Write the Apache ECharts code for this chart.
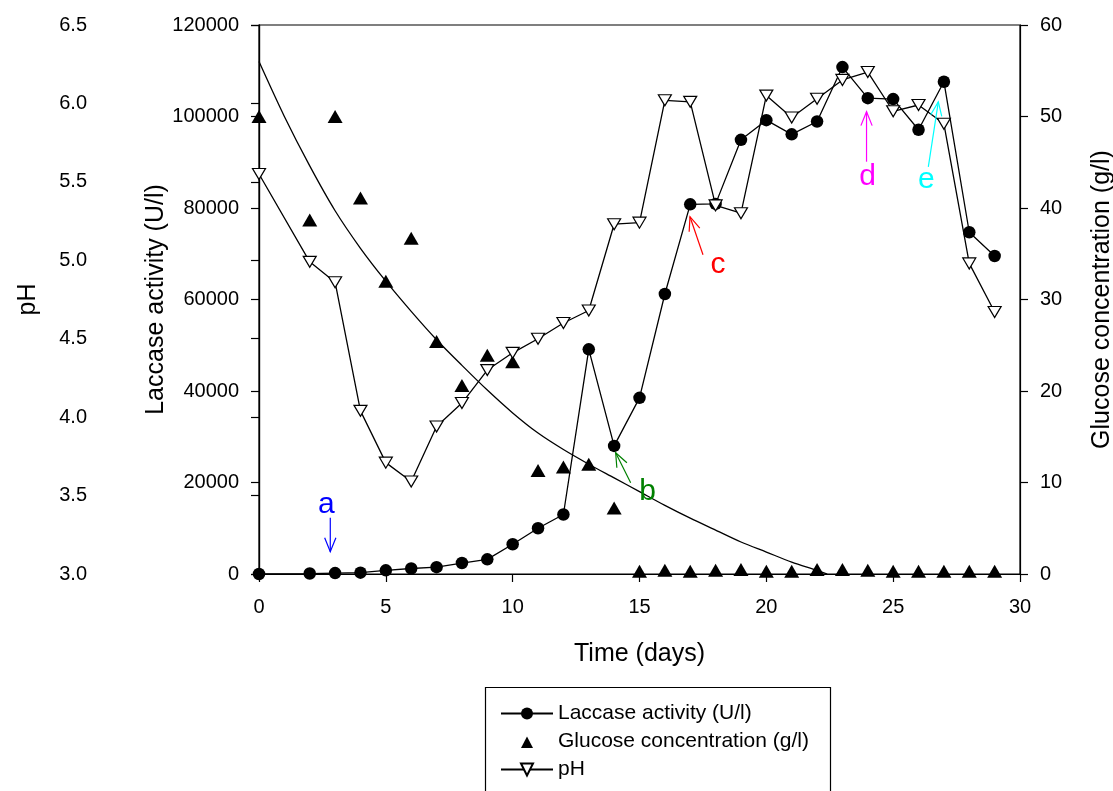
<!DOCTYPE html>
<html>
<head>
<meta charset="utf-8">
<script src="https://cdn.jsdelivr.net/npm/echarts@6/dist/echarts.min.js"></script>
<style>
html,body{margin:0;padding:0;background:#fff;overflow:hidden;}
#main{width:1113px;height:791px;}
</style>
</head>
<body>
<div id="main"></div>
<script>
// ---- data ----
var days = [0,2,3,4,5,6,7,8,9,10,11,12,13,14,15,16,17,18,19,20,21,22,23,24,25,26,27,28,29];
var laccase = [0,100,200,300,800,1200,1500,2400,3200,6500,10000,13000,49100,28000,38500,61200,80800,80900,94900,99200,96100,98900,110800,104000,103800,97100,107600,74700,69500];
var glucose = [50.0,38.7,50.0,41.1,32.0,36.7,25.4,20.6,23.9,23.2,11.3,11.7,12.0,7.2,0.3,0.4,0.3,0.4,0.5,0.3,0.3,0.5,0.5,0.4,0.3,0.3,0.3,0.3,0.3];
var pH = [5.55,4.99,4.86,4.04,3.71,3.59,3.94,4.09,4.30,4.41,4.50,4.60,4.68,5.23,5.24,6.02,6.01,5.35,5.30,6.05,5.91,6.03,6.15,6.20,5.95,5.99,5.87,4.98,4.67];
// fitted glucose decay curve at each day
var fitDays = [0,1,2,3,4,5,6,7,8,9,10,11,12,13,14,15,16,17,18,19,20,21,22,22.4];
var fitGlucose = [56.0,50.0,44.6,39.7,35.6,32.0,28.7,25.6,22.8,20.1,17.6,15.4,13.6,12.0,10.5,9.0,7.5,6.1,4.8,3.5,2.4,1.3,0.4,0];
// annotation letters: anchor = arrow tip (day, laccase)
var annoLetters = ['a','b','c','d','e'];
var annoDays = [2.81,14.06,16.99,23.95,26.78];
var annoLaccase = [4870,26500,78100,101050,103200];
var annoColors = ['#0000ff','#008000','#ff0000','#ff00ff','#00ffff'];
var xTicks = [0,5,10,15,20,25,30];

var FONT = "'Liberation Sans', Arial, Helvetica, sans-serif";
function zip(a,b){var r=[];for(var i=0;i<a.length;i++)r.push([a[i],b[i]]);return r;}

var chart = echarts.init(document.getElementById('main'), null, {renderer:'canvas'});
var axisCommon = {
  axisLine:{show:true,lineStyle:{color:'#000',width:1.2}},
  axisTick:{show:true,inside:false,length:8,lineStyle:{color:'#000',width:1.2}},
  axisLabel:{color:'#000',fontSize:20,fontFamily:FONT,formatter:function(v){return String(v);}},
  splitLine:{show:false},
  nameMoveOverlap:false,
  nameTextStyle:{color:'#000',fontSize:25,fontFamily:FONT}
};
function ax(o){return echarts.util.merge(echarts.util.clone(axisCommon),o,true);}

var option = {
  backgroundColor:'#fff',
  animation:false,
  grid:{left:259,right:93,top:25,bottom:217,containLabel:false,outerBoundsMode:'none',
        show:true,borderColor:'#000',borderWidth:1.2,backgroundColor:'transparent'},
  xAxis: ax({type:'value',min:xTicks[0],max:xTicks[xTicks.length-1],interval:5,
    name:'Time (days)',nameLocation:'middle',nameGap:68,
    axisLabel:{margin:23}}),
  yAxis:[
    ax({type:'value',position:'left',offset:154,min:3,max:6.5,interval:0.5,
      name:'pH',nameLocation:'middle',nameRotate:90,nameGap:64,
      axisLabel:{margin:18,formatter:function(v){return v.toFixed(1);}}}),
    ax({type:'value',position:'left',offset:0,min:0,max:120000,interval:20000,
      name:'Laccase activity (U/l)',nameLocation:'middle',nameRotate:90,nameGap:90,
      axisLabel:{margin:20}}),
    ax({type:'value',position:'right',offset:0,min:0,max:60,interval:10,
      name:'Glucose concentration (g/l)',nameLocation:'middle',nameRotate:90,nameGap:70,
      axisLabel:{margin:20}})
  ],
  legend:{
    orient:'vertical',left:495,top:698,itemWidth:52,itemHeight:15,itemGap:7,
    symbolKeepAspect:true,
    textStyle:{color:'#000',fontSize:21,lineHeight:21,fontFamily:FONT},
    data:[
      'Laccase activity (U/l)',
      {name:'Glucose concentration (g/l)',icon:'path://M0,0 M20,15 M4,14 L10,2.5 L16,14 Z'},
      'pH'
    ]
  },
  series:[
    {name:'fit',type:'line',yAxisIndex:2,data:zip(fitDays,fitGlucose),smooth:0.3,
     showSymbol:false,symbol:'none',lineStyle:{color:'#000',width:1.3},silent:true,z:1},
    {name:'Glucose concentration (g/l)',type:'scatter',yAxisIndex:2,data:zip(days,glucose),
     symbol:'triangle',symbolSize:[15,13],itemStyle:{color:'#000',opacity:1},z:2},
    {name:'Laccase activity (U/l)',type:'line',yAxisIndex:1,data:zip(days,laccase),
     symbol:'circle',symbolSize:12.5,showAllSymbol:true,
     lineStyle:{color:'#000',width:1.3},itemStyle:{color:'#000',borderColor:'#000',borderWidth:0},z:3},
    {name:'pH',type:'line',yAxisIndex:0,data:zip(days,pH),
     symbol:'triangle',symbolRotate:180,symbolSize:[13,11],showAllSymbol:true,
     lineStyle:{color:'#000',width:1.3},itemStyle:{color:'#fff',borderColor:'#000',borderWidth:1.2},z:4}
  ]
};
chart.setOption(option);

// annotations: arrows + letters, positioned from data coordinates
var tails = [[0,-34],[15,30],[13,38],[0,50],[-10,65]];
var textOff = [[-4,-47],[32,39],[28,48],[1,65],[-12,78]];
var graphics = [];
graphics.push({type:'rect',left:483,top:685,shape:{width:345,height:150},
  style:{fill:'none',stroke:'#000',lineWidth:1.2},z:10,silent:true});
function rot(x,y,a){return [x*Math.cos(a)-y*Math.sin(a), x*Math.sin(a)+y*Math.cos(a)];}
for (var i=0;i<annoLetters.length;i++){
  var p = chart.convertToPixel({xAxisIndex:0,yAxisIndex:1},[annoDays[i],annoLaccase[i]]);
  var tx=p[0], ty=p[1];
  var sx=tx+tails[i][0], sy=ty+tails[i][1];
  var dx=tx-sx, dy=ty-sy, L=Math.sqrt(dx*dx+dy*dy); dx/=L; dy/=L;
  var wl=15, th=22*Math.PI/180;
  var w1=rot(dx,dy,th), w2=rot(dx,dy,-th);
  graphics.push({type:'polyline',shape:{points:[[sx,sy],[tx,ty]]},style:{stroke:annoColors[i],lineWidth:1.2,fill:null},z:20,silent:true});
  graphics.push({type:'polyline',shape:{points:[[tx-wl*w1[0],ty-wl*w1[1]],[tx,ty],[tx-wl*w2[0],ty-wl*w2[1]]]},style:{stroke:annoColors[i],lineWidth:1.2,fill:null},z:20,silent:true});
  graphics.push({type:'text',x:tx+textOff[i][0],y:ty+textOff[i][1],
    style:{text:annoLetters[i],fill:annoColors[i],font:'30px '+FONT,textAlign:'center',textVerticalAlign:'middle'},z:20,silent:true});
}
chart.setOption({graphic:graphics});
</script>
</body>
</html>
